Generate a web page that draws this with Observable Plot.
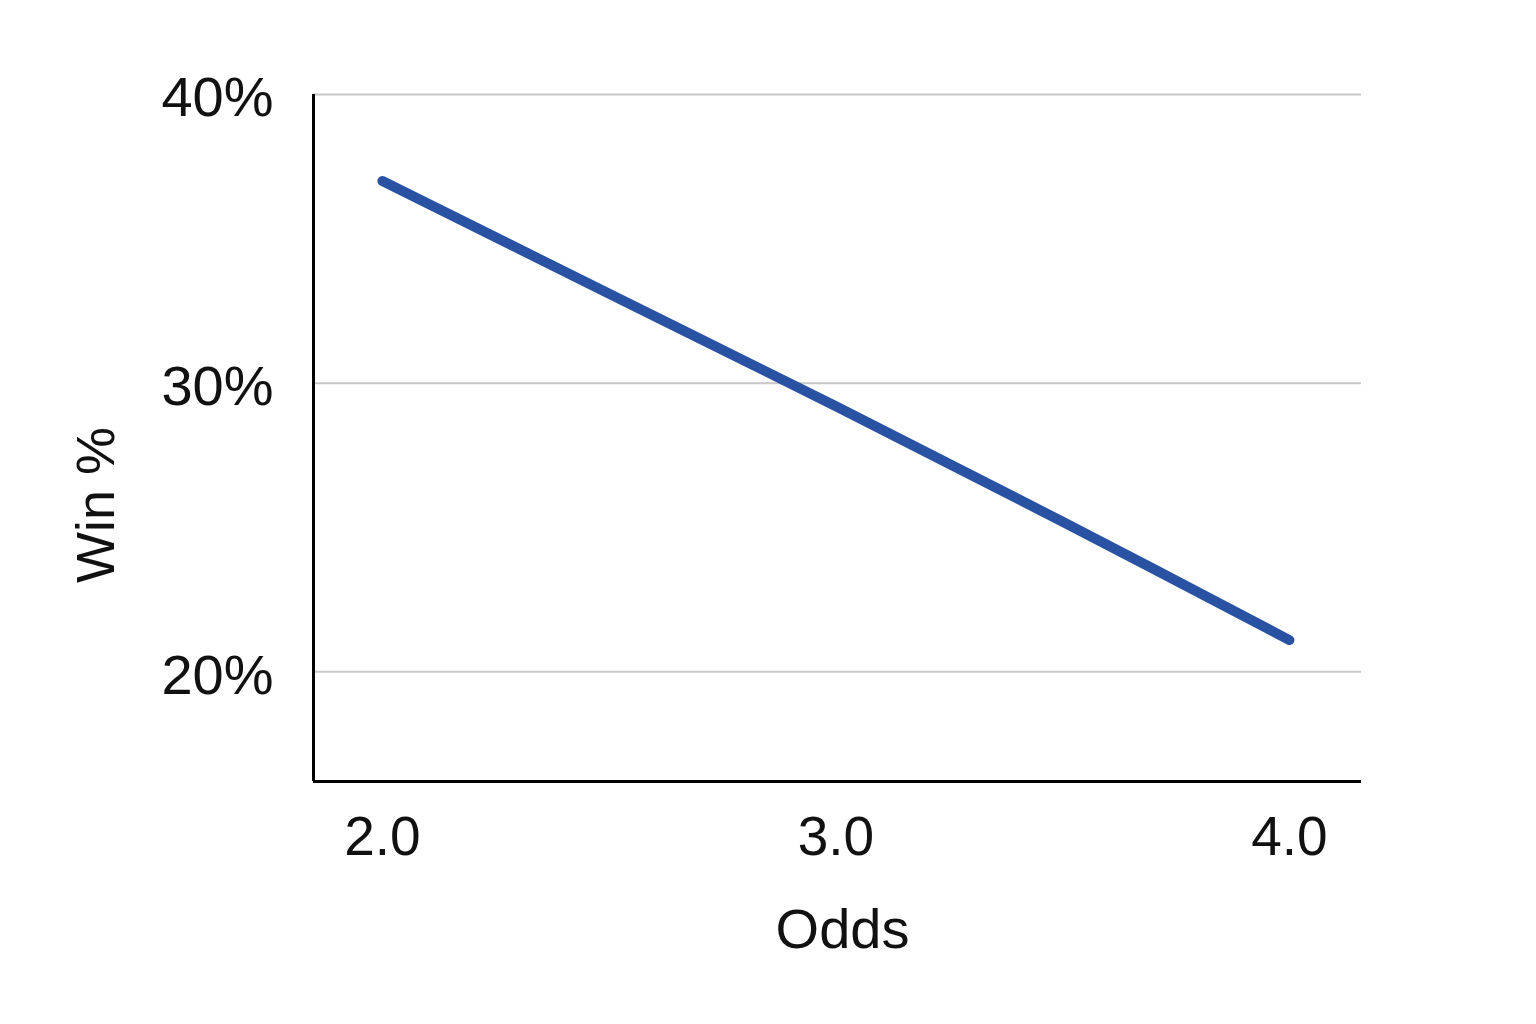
<!DOCTYPE html>
<html><head><meta charset="utf-8">
<script src="https://cdn.jsdelivr.net/npm/d3@7"></script>
<script src="https://cdn.jsdelivr.net/npm/@observablehq/plot@0.6"></script>
<style>html,body{margin:0;padding:0;background:#fff;}</style>
</head><body><div id="chart"></div>
<script>
const odds = [2.0, 2.5, 3.0, 3.5, 4.0];
const winPct = [37.0, 33.1, 29.2, 25.2, 21.1];
const xTicks = [2, 3, 4];
const yTicks = [20, 30, 40];
const xDomain = [1.848, 4.159];
const yDomain = [16.2, 40];
const xLabel = "Odds";
const yLabel = "Win %";

const data = odds.map((o, i) => ({odds: o, win: winPct[i]}));

const chart = Plot.plot({
  width: 1536, height: 1024,
  marginLeft: 313, marginRight: 175, marginTop: 94, marginBottom: 243,
  style: {fontFamily: "'Liberation Sans', Arial, sans-serif", background: "#fff", color: "#111"},
  x: {domain: xDomain},
  y: {domain: yDomain},
  marks: [
    Plot.gridY(yTicks, {stroke: "#c8c8c8", strokeOpacity: 1, strokeWidth: 2}),
    Plot.axisY(yTicks, {tickSize: 0, tickPadding: 40, fontSize: 56, dy: 4, tickFormat: d => d + "%", label: null}),
    Plot.axisX(xTicks, {tickSize: 0, tickPadding: 34, fontSize: 55, tickFormat: d => d.toFixed(1), label: null}),
    Plot.ruleX([xDomain[0]], {stroke: "#000", strokeWidth: 3}),
    Plot.ruleY([yDomain[0]], {stroke: "#000", strokeWidth: 3}),
    Plot.line(data, {x: "odds", y: "win", curve: "catmull-rom", stroke: "#2a52a3", strokeWidth: 10, strokeLinecap: "round", strokeLinejoin: "round"}),
    Plot.text([yLabel], {text: d => d, frameAnchor: "left", textAnchor: "middle", rotate: -90, dx: -217, dy: 67, fontSize: 54, fill: "#111"}),
    Plot.text([xLabel], {text: d => d, frameAnchor: "bottom", dx: 5, dy: 166, fontSize: 56, fill: "#111"})
  ]
});
document.getElementById("chart").appendChild(chart);
</script>
</body></html>
